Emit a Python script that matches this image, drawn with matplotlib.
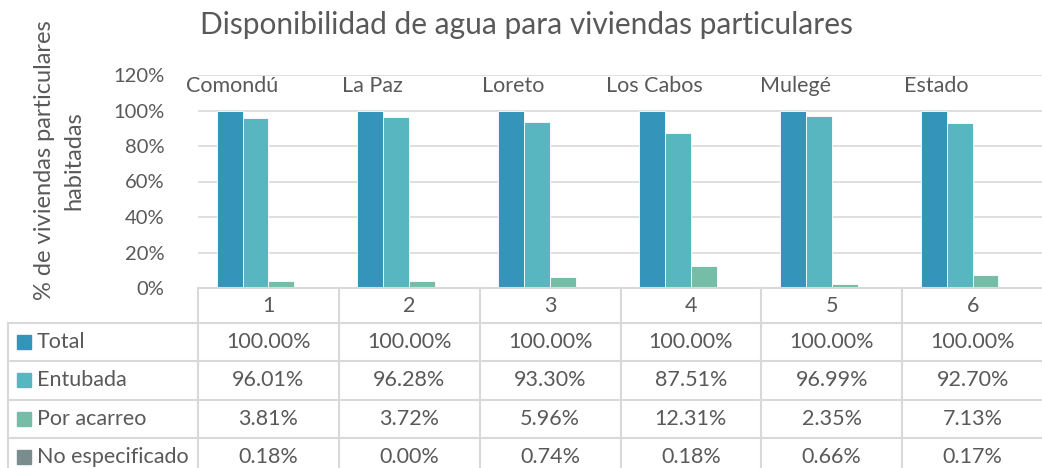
import numpy as np
import matplotlib.pyplot as plt

plt.rcParams['font.family'] = ['Lato', 'DejaVu Sans']

municipios = ['Comondú', 'La Paz', 'Loreto', 'Los Cabos', 'Mulegé', 'Estado']
columnas = ['1', '2', '3', '4', '5', '6']
series = ['Total', 'Entubada', 'Por acarreo', 'No especificado']
total = [100.00, 100.00, 100.00, 100.00, 100.00, 100.00]
entubada = [96.01, 96.28, 93.30, 87.51, 96.99, 92.70]
acarreo = [3.81, 3.72, 5.96, 12.31, 2.35, 7.13]
no_esp = [0.18, 0.00, 0.74, 0.18, 0.66, 0.17]
colores = ['#3494BA', '#58B6C0', '#75BDA7', '#7A8C8E']

valores = [total, entubada, acarreo, no_esp]
gris = '#595959'
linea = '#D9D9D9'
fs = 15.5

W, H = 1042, 468
fig = plt.figure(figsize=(W / 100, H / 100), dpi=100)

# plot area in pixels
x0, x1 = 198, 1043
ytop, ybot = 75, 288
ax = fig.add_axes([x0 / W, (H - ybot) / H, (x1 - x0) / W, (ybot - ytop) / H])
n = len(columnas)
x = np.arange(n)
w = 0.184
for k, serie in enumerate(valores):
    ax.bar(x + (k - 1.5) * w, np.array(serie) / 100, w, color=colores[k],
           edgecolor='white', linewidth=0.6, zorder=3)
ax.set_xlim(-0.5, n - 0.5)
ax.set_ylim(0, 1.2)
ax.set_yticks(np.arange(0, 1.21, 0.2))
ax.set_yticklabels(['{:.0f}%'.format(v * 100) for v in np.arange(0, 1.21, 0.2)],
                   fontsize=14.5, color=gris)
ax.set_xticks([])
ax.tick_params(axis='y', length=0, pad=24)
ax.grid(axis='y', color=linea, linewidth=1.2, zorder=0)
for s in ax.spines.values():
    s.set_visible(False)
for i, m in enumerate(municipios):
    ax.text(i - 0.26, 1.14, m, ha='center', va='center', fontsize=fs, color=gris)

ax.set_ylabel('% de viviendas particulares\nhabitadas', fontsize=17, color=gris,
              linespacing=1.45)
ax.yaxis.set_label_coords(-0.135, 0.6)

fig.text(0.505, 0.947, 'Disponibilidad de agua para viviendas particulares',
         ha='center', va='center', fontsize=21.5, color=gris)

# data table below the chart, pixel coordinates
tb = fig.add_axes([0, 0, 1, 1], facecolor='none')
tb.set_xlim(0, W)
tb.set_ylim(H, 0)
tb.axis('off')
cw = (x1 - x0) / n
rh = 38.3
filas_y = [ybot + 35 + r * rh for r in range(len(series) + 1)]
tb.plot([x0, W], [ybot, ybot], color=linea, lw=1.5)
for yy in filas_y:
    tb.plot([8, W], [yy, yy], color=linea, lw=1.5)
tb.plot([8, 8], [filas_y[0], H], color=linea, lw=1.5)
for c in range(n + 1):
    tb.plot([x0 + c * cw] * 2, [ybot, H], color=linea, lw=1.5)
for c, col in enumerate(columnas):
    tb.text(x0 + (c + 0.5) * cw, (ybot + filas_y[0]) / 2 + 1, col,
            ha='center', va='center', fontsize=fs, color=gris)
for r, nombre in enumerate(series):
    yc = filas_y[r] + rh / 2
    tb.add_patch(plt.Rectangle((17, yc - 7), 14, 14, color=colores[r]))
    tb.text(37, yc, nombre, ha='left', va='center', fontsize=fs, color=gris)
    for c in range(n):
        tb.text(x0 + (c + 0.5) * cw, yc, '{:.2f}%'.format(valores[r][c]),
                ha='center', va='center', fontsize=fs, color=gris)

fig.savefig('out.png', dpi=100)
